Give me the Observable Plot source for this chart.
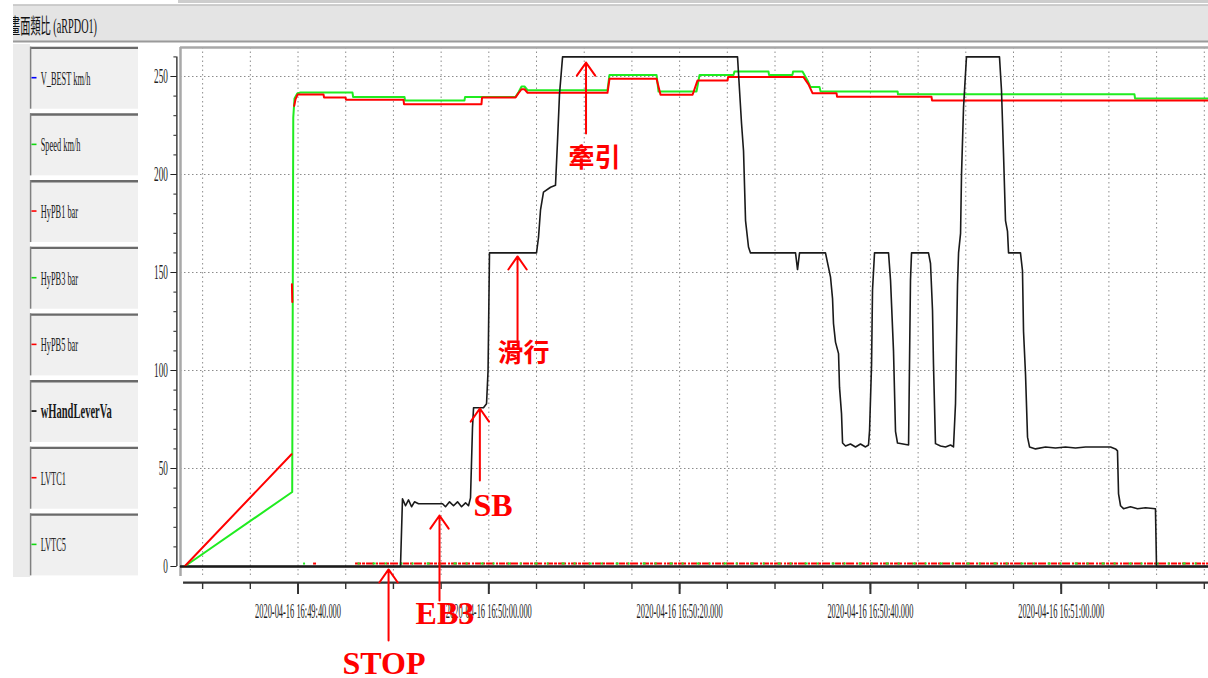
<!DOCTYPE html>
<html><head><meta charset="utf-8">
<script src="https://cdn.jsdelivr.net/npm/d3@7"></script>
<script src="https://cdn.jsdelivr.net/npm/@observablehq/plot@0.6"></script>
<style>
html,body{margin:0;padding:0;background:#fff;overflow:hidden;}
</style>
</head><body>
<div id="chart"></div>
<script>
// ---------------- data ----------------
const titleText = "畫面類比 (aRPDO1)";
const legendLabels = ["V_BEST km/h", "Speed km/h", "HyPB1 bar", "HyPB3 bar", "HyPB5 bar", "wHandLeverVa", "LVTC1", "LVTC5"];
const legendColors = ["#0000ff", "#10d810", "#ff0000", "#10d810", "#ff0000", "#000000", "#ff0000", "#10d810"];

const xTickSeconds = [0, 20, 40, 60, 80]; // seconds after 16:49:40
const xTickLabels = ["2020-04-16 16:49:40.000", "2020-04-16 16:50:00.000", "2020-04-16 16:50:20.000", "2020-04-16 16:50:40.000", "2020-04-16 16:51:00.000"];
const xMinorSeconds = [-10, -5, 0, 5, 10, 15, 20, 25, 30, 35, 40, 45, 50, 55, 60, 65, 70, 75, 80, 85, 90, 95];
const yTickValues = [0, 50, 100, 150, 200, 250];
const yMinorValues = [0, 10, 20, 30, 40, 50, 60, 70, 80, 90, 100, 110, 120, 130, 140, 150, 160, 170, 180, 190, 200, 210, 220, 230, 240, 250, 260];

// wHandLeverVa (black)
const handLeverSec = [-12.32, 10.74, 10.95, 11.27, 11.58, 11.90, 12.21, 12.63, 15.15, 15.46, 15.88, 16.30, 16.72, 17.14, 17.56, 17.87, 18.08, 18.29, 18.40, 19.44, 19.76, 19.92, 20.07, 25.00, 25.21, 25.42, 25.73, 26.47, 26.99, 27.20, 27.41, 27.73, 46.07, 46.28, 46.49, 46.70, 46.91, 47.22, 47.43, 52.15, 52.36, 52.57, 55.29, 55.82, 56.03, 56.13, 56.34, 56.66, 56.76, 56.97, 57.08, 57.39, 57.91, 58.44, 58.96, 59.49, 59.80, 59.91, 60.12, 60.22, 60.43, 61.90, 62.11, 62.42, 62.63, 62.84, 64.00, 64.05, 64.20, 64.31, 66.09, 66.30, 66.51, 66.61, 66.82, 67.35, 67.87, 68.40, 68.71, 68.92, 69.13, 69.24, 69.45, 69.55, 69.76, 70.07, 73.53, 73.74, 73.95, 74.16, 74.37, 74.48, 75.73, 75.94, 76.05, 76.26, 76.47, 76.68, 77.31, 78.36, 79.40, 80.45, 81.50, 82.55, 85.17, 85.69, 85.90, 86.01, 86.22, 86.53, 87.26, 88.00, 88.84, 89.88, 89.99, 95.44];
const handLeverVal = [0, 0, 34.5, 31, 34, 30.5, 33, 32, 32, 30.5, 33, 31, 33, 30.5, 32.5, 31, 35, 71, 81, 81, 83, 100, 160, 160, 168, 182, 191, 193.5, 194.5, 217, 241, 260, 260, 243, 226, 212, 176.5, 163, 160, 160, 151.5, 160, 160, 147.6, 136.7, 124, 114.5, 108.6, 91.5, 78, 63, 61.5, 62.5, 61, 62.5, 61, 62, 69.4, 103, 141, 160, 160, 146, 110, 69, 63, 62, 83, 146, 160, 160, 154.6, 130.6, 103.5, 62.7, 61.5, 61, 62, 61, 83, 144, 160, 170, 200, 234, 260, 260, 243, 211, 176.5, 171, 160, 160, 151, 120, 98, 66, 61, 60, 61, 60.5, 61, 60.5, 61, 61, 60, 59, 37, 31, 29.5, 30.5, 29.5, 30, 29.5, 0, 0];

// Speed km/h (green)
const speedSec = [-11.9, -0.61, -0.50, -0.37, -0.08, 0.26, 5.71, 5.77, 11.16, 11.22, 17.45, 17.51, 22.80, 23.11, 23.43, 23.74, 24.06, 32.44, 32.65, 37.58, 37.79, 41.77, 42.09, 45.65, 45.75, 49.32, 49.37, 51.83, 51.89, 52.88, 53.41, 53.72, 54.67, 54.77, 62.85, 62.89, 87.68, 87.74, 95.44];
const speedVal = [0, 38, 229, 238.8, 241.3, 241.8, 241.8, 239.6, 239.6, 237.8, 237.8, 239.6, 239.6, 242, 244.9, 244.9, 243, 243, 250.8, 250.8, 242.3, 242.3, 250.8, 250.8, 252.5, 252.5, 250.8, 250.8, 252.5, 252.5, 248, 244.6, 244.6, 242.4, 242.4, 240.9, 240.9, 238.8, 238.8];

// LVTC1 (red)
const lvtc1Sec = [-11.9, -0.68, -0.66, -0.64, -0.60, -0.55, -0.40, -0.26, -0.05, 2.67, 2.73, 4.98, 5.03, 11.06, 11.11, 19.23, 19.29, 22.80, 23.11, 23.43, 23.74, 24.06, 32.44, 32.65, 37.58, 38.00, 41.36, 41.88, 45.03, 45.08, 52.99, 53.51, 53.93, 56.45, 56.50, 66.40, 66.46, 95.44];
const lvtc1Val = [0, 57.3, NaN, 144, 135, NaN, 235, 238.5, 240.8, 240.8, 239.3, 239.3, 238.1, 238.1, 235.9, 235.9, 239.3, 239.3, 241.5, 243.5, 243.5, 241.7, 241.7, 248.8, 248.8, 240.7, 240.7, 248, 248, 249.7, 249.7, 246, 241.5, 241.5, 239.7, 239.7, 237.8, 237.8];

// brake pressure traces hugging zero
const hypb1Start = [1.63, 6.03];
const hypb1End = [1.94, 95.44];
const hypb3Start = [0.58, 6.30];
const hypb3End = [1.00, 95.44];
const brakeLevel = 1.5;

// annotations
const annoLabels = ["牽引", "滑行", "SB", "EB3", "STOP"];
const annoTextSec = [28.35, 20.91, 18.40, 12.32, 4.66];
const annoTextVal = [203.6, 104.1, 26.0, -29.1, -54.8];
const arrowSec = [30.19, 23.01, 19.06, 14.83, 9.49];
const arrowFromVal = [220.9, 115.3, 43.9, -17.3, -37.8];
const arrowToVal = [257.1, 158.2, 80.6, 26.0, -1.5];

// ---------------- build ----------------
const base = new Date(2020, 3, 16, 16, 49, 40);
const T = s => new Date(base.getTime() + s * 1000);
const series = (secs, vals) => secs.map((s, i) => ({t: T(s), v: vals[i]}));
const xDomain = [T(-12.32), T(95.44)];
const yDomain = [-5.1, 264.8];
const RED = "#ff0000", GREEN = "#20ec20";
const SERIF = "'Liberation Serif', serif";

const annos = annoLabels.map((label, i) => ({label, x: T(annoTextSec[i]), y: annoTextVal[i]}));
const arrows = arrowSec.map((s, i) => ({x: T(s), y1: arrowFromVal[i], y2: arrowToVal[i]}));
const isCJK = s => /[\u4e00-\u9fff]/.test(s);

const chart = Plot.plot({
  width: 1208, height: 678,
  marginLeft: 180, marginRight: 0, marginTop: 47, marginBottom: 102,
  style: {fontFamily: "'Liberation Serif', 'Noto Sans CJK TC', serif", fontSize: "20px", color: "#222", background: "#fff", overflow: "visible"},
  x: {type: "time", domain: xDomain, label: null},
  y: {domain: yDomain, label: null},
  marks: [
    Plot.gridY({ticks: yTickValues.filter(d => d > 0), stroke: "#8c8c8c", strokeOpacity: 1, strokeDasharray: "1.5,2.5"}),
    Plot.gridX({ticks: xMinorSeconds.map(T), stroke: "#8c8c8c", strokeOpacity: 1, strokeDasharray: "1.5,3"}),
    // frame (left and top)
    Plot.ruleX([xDomain[0]], {stroke: "#a8a8a8", strokeWidth: 2.5}),
    Plot.ruleY([yDomain[1]], {stroke: "#a8a8a8", strokeWidth: 2.5}),
    // y axis
    Plot.ruleX([{x: T(-12.70), y1: 0, y2: 260}], {x: "x", y1: "y1", y2: "y2", stroke: "#222", strokeWidth: 1.3}),
    Plot.axisY({ticks: yMinorValues, tickSize: 3, dx: -3.6, tickFormat: () => "", stroke: "#222"}),
    Plot.axisY({ticks: yTickValues, tickSize: 6, tickPadding: 3, dx: -3.6, tickFormat: d => String(d), stroke: "#222", fill: "#222"}),
    // x axis
    Plot.ruleY([{y: -8.2, x1: T(-12.0), x2: xDomain[1]}], {y: "y", x1: "x1", x2: "x2", stroke: "#333", strokeWidth: 2.2}),
    Plot.axisX({ticks: xMinorSeconds.map(T), tickSize: 7, dy: 6, tickFormat: () => "", stroke: "#333", strokeWidth: 1.4}),
    Plot.axisX({ticks: xTickSeconds.map(T), tickSize: 12, tickPadding: 9, dy: 6, stroke: "#333", strokeWidth: 2, fill: "#222",
      tickFormat: d => xTickLabels[xTickSeconds.indexOf(Math.round((d - base) / 1000))]}),
    // zero line
    Plot.ruleY([0], {stroke: "#222", strokeWidth: 2.5}),
    // brake traces
    Plot.ruleY(hypb1Start.map((s, i) => ({x1: T(s), x2: T(hypb1End[i])})), {x1: "x1", x2: "x2", y: brakeLevel, stroke: RED, strokeWidth: 2, strokeDasharray: "6,1,3,1,8,2,2,1"}),
    Plot.ruleY(hypb3Start.map((s, i) => ({x1: T(s), x2: T(hypb3End[i])})), {x1: "x1", x2: "x2", y: brakeLevel, stroke: GREEN, strokeWidth: 2, strokeDasharray: "2,13,3,9"}),
    // series
    Plot.line(series(speedSec, speedVal), {x: "t", y: "v", stroke: GREEN, strokeWidth: 2}),
    Plot.line(series(lvtc1Sec, lvtc1Val), {x: "t", y: "v", stroke: RED, strokeWidth: 2}),
    Plot.line(series(handLeverSec, handLeverVal), {x: "t", y: "v", stroke: "#1a1a1a", strokeWidth: 1.6}),
    // annotations
    Plot.arrow(arrows, {x1: "x", x2: "x", y1: "y1", y2: "y2", stroke: RED, strokeWidth: 2, headLength: 12, headAngle: 70}),
    Plot.text(annos.filter(d => isCJK(d.label)), {x: "x", y: "y", text: "label", textAnchor: "start", lineAnchor: "bottom",
      fill: RED, fontSize: 26, fontWeight: "bold", fontFamily: "'Noto Sans CJK TC', sans-serif", ariaLabel: "cjk-annotation"}),
    Plot.text(annos.filter(d => !isCJK(d.label)), {x: "x", y: "y", text: "label", textAnchor: "start", lineAnchor: "bottom",
      fill: RED, fontSize: 32, fontWeight: "bold", fontFamily: SERIF, ariaLabel: "latin-annotation"})
  ]
});
document.getElementById("chart").append(chart);

const svg = d3.select(chart);
function condenseTo(node, width) {
  node.setAttribute("textLength", width.toFixed(1));
  node.setAttribute("lengthAdjust", "spacingAndGlyphs");
}
function condense(sel, k) {
  sel.each(function() {
    const w = this.getComputedTextLength();
    if (w > 0) condenseTo(this, w * k);
  });
}
// drop empty minor labels
svg.selectAll("text").filter(function() { return this.textContent === ""; }).remove();
const yLabels = svg.selectAll('g[aria-label="y-axis tick label"] text').style("font-size", "21px").style("font-family", SERIF);
const xLabels = svg.selectAll('g[aria-label="x-axis tick label"] text').style("font-size", "20px").style("font-family", SERIF);
condense(yLabels, 0.44);
xLabels.each(function() { condenseTo(this, 86); });
svg.selectAll('g[aria-label="cjk-annotation"] text').style("letter-spacing", "10px");

// ---- window chrome: title bar and legend panel ----
const g = svg.append("g").attr("text-anchor", "start");
g.append("rect").attr("x", 178).attr("y", 0).attr("width", 1030).attr("height", 3).attr("fill", "#cdcdcd");
g.append("rect").attr("x", 13).attr("y", 4.5).attr("width", 1195).attr("height", 37).attr("fill", "#e4e4e4");
g.append("line").attr("x1", 13).attr("x2", 1208).attr("y1", 5).attr("y2", 5).attr("stroke", "#c2c2c2").attr("stroke-width", 1.5);
g.append("line").attr("x1", 13).attr("x2", 1208).attr("y1", 41.5).attr("y2", 41.5).attr("stroke", "#9a9a9a").attr("stroke-width", 2);
svg.append("defs").append("clipPath").attr("id", "titleclip")
  .append("rect").attr("x", 13).attr("y", 0).attr("width", 1195).attr("height", 44);
const title = g.append("text").attr("x", 10).attr("y", 33).attr("text-anchor", "start").attr("clip-path", "url(#titleclip)")
  .attr("font-family", "'Liberation Serif', 'Noto Sans CJK TC', serif").attr("font-size", 21).attr("fill", "#111")
  .text(titleText);
condenseTo(title.node(), 87);

g.append("rect").attr("x", 13).attr("y", 44).attr("width", 17).attr("height", 533).attr("fill", "#ebebeb");
legendLabels.forEach((label, i) => {
  const top = 46.7 + 66.67 * i;
  g.append("rect").attr("x", 30).attr("y", top).attr("width", 108).attr("height", 62).attr("fill", "#f0f0f0");
  g.append("line").attr("x1", 30).attr("x2", 138).attr("y1", top + 1.2).attr("y2", top + 1.2).attr("stroke", "#6a6a6a").attr("stroke-width", 2.4);
  g.append("line").attr("x1", 30.6).attr("x2", 30.6).attr("y1", top).attr("y2", top + 62).attr("stroke", "#808080").attr("stroke-width", 1.5);
  g.append("line").attr("x1", 31.5).attr("x2", 36.5).attr("y1", top + 31).attr("y2", top + 31).attr("stroke", legendColors[i]).attr("stroke-width", 1.6);
  const bold = label === "wHandLeverVa";
  const t = g.append("text").attr("x", 40.7).attr("y", top + 38).attr("text-anchor", "start")
    .attr("font-family", SERIF).attr("font-size", bold ? 21 : 19)
    .attr("font-weight", bold ? "bold" : "normal").attr("fill", "#1a1a1a").text(label);
  if (bold) condenseTo(t.node(), 71); else condense(t, 0.44);
});
</script>
</body></html>
